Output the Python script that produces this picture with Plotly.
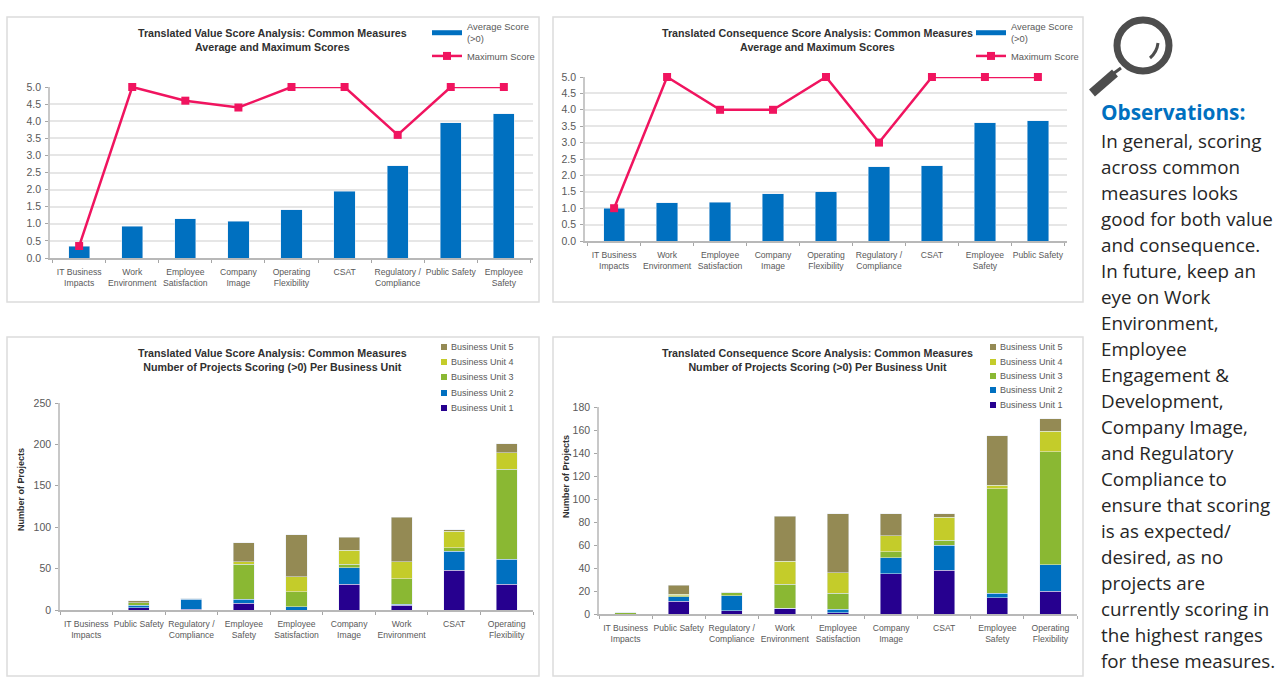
import plotly.graph_objects as go

W = 1281
H = 682

# top left chart
value_cats = ["IT Business<br>Impacts", "Work<br>Environment", "Employee<br>Satisfaction", "Company<br>Image",
              "Operating<br>Flexibility", "CSAT", "Regulatory /<br>Compliance", "Public Safety", "Employee<br>Safety"]
value_avg = [0.35, 0.93, 1.15, 1.07, 1.41, 1.95, 2.7, 3.95, 4.22]
value_max = [0.35, 5, 4.6, 4.4, 5, 5, 3.6, 5, 5]

# top right chart
cons_cats = ["IT Business<br>Impacts", "Work<br>Environment", "Employee<br>Satisfaction", "Company<br>Image",
             "Operating<br>Flexibility", "Regulatory /<br>Compliance", "CSAT", "Employee<br>Safety", "Public Safety"]
cons_avg = [1.0, 1.16, 1.18, 1.44, 1.5, 2.26, 2.29, 3.6, 3.67]
cons_max = [1, 5, 4, 4, 5, 3, 5, 5, 5]

# bottom left chart
value_unit_cats = ["IT Business<br>Impacts", "Public Safety", "Regulatory /<br>Compliance", "Employee<br>Safety",
                   "Employee<br>Satisfaction", "Company<br>Image", "Work<br>Environment", "CSAT", "Operating<br>Flexibility"]
value_bu1 = [0, 3, 1, 8, 0, 31, 6, 48, 31]
value_bu2 = [0, 3, 12, 5, 4, 20, 1, 23, 30]
value_bu3 = [0, 3, 1, 42, 18, 4, 31, 4, 109]
value_bu4 = [0, 0, 0, 3, 18, 17, 20, 20, 20]
value_bu5 = [0, 2, 0, 23, 51, 16, 54, 2, 11]

# bottom right chart
cons_unit_cats = ["IT Business<br>Impacts", "Public Safety", "Regulatory /<br>Compliance", "Work<br>Environment",
                  "Employee<br>Satisfaction", "Company<br>Image", "CSAT", "Employee<br>Safety", "Operating<br>Flexibility"]
cons_bu1 = [0, 11, 3, 5, 1, 35, 38, 14, 20]
cons_bu2 = [0, 4, 13, 0, 3, 14, 22, 4, 23]
cons_bu3 = [1, 1, 3, 21, 14, 5, 4, 91, 98]
cons_bu4 = [0, 1, 0, 20, 18, 14, 20, 3, 18]
cons_bu5 = [0, 8, 0, 39, 51, 19, 3, 43, 11]

unit_names = ["Business Unit 1", "Business Unit 2", "Business Unit 3", "Business Unit 4", "Business Unit 5"]
unit_colors = ["#26008f", "#0070c0", "#8ab833", "#c4cc2a", "#948a54"]

observations = ["In general, scoring", "across common", "measures looks", "good for both value", "and consequence.",
                "In future, keep an", "eye on Work", "Environment,", "Employee", "Engagement &", "Development,",
                "Company Image,", "and Regulatory", "Compliance to", "ensure that scoring", "is as expected/",
                "desired, as no", "projects are", "currently scoring in", "the highest ranges", "for these measures."]

FONT = "Liberation Sans"
GREY = "#595959"
BLUE = "#0070c0"
PINK = "#f0145f"
BOX = "#dcdcdc"


def px(x):
    return x / W


def py(y):
    return 1 - y / H


fig = go.Figure()
shapes = []
annotations = []


def setup_axes(n, box, plot, yrange, dtick, grid, fmt, title, title_pos):
    # box and plot are x0, x1, y0, y1 in page pixels
    shapes.append(dict(type="rect", xref="paper", yref="paper", x0=px(box[0]), x1=px(box[1]), y0=py(box[2]), y1=py(box[3]),
                       line=dict(color=BOX, width=1.5), layer="below"))
    suffix = "" if n == 1 else str(n)
    fig.layout["xaxis" + suffix] = dict(domain=[px(plot[0]), px(plot[1])], anchor="y" + suffix, type="category",
                                        tickson="boundaries", ticks="outside", ticklen=3, ticklabelstandoff=5,
                                        tickcolor="#a6a6a6", showline=True, linecolor="#b8b8b8", linewidth=1.5,
                                        showgrid=False, tickangle=0, tickfont=dict(family=FONT, size=8.6, color=GREY))
    fig.layout["yaxis" + suffix] = dict(domain=[py(plot[3]), py(plot[2])], anchor="x" + suffix, range=yrange, dtick=dtick,
                                        ticks="outside", ticklen=3, ticklabelstandoff=2, tickcolor="#a6a6a6", tickformat=fmt,
                                        showline=True, linecolor="#c8c8c8", linewidth=1.5, showgrid=grid,
                                        gridcolor="#e6e6e6", gridwidth=1.5, zeroline=False,
                                        tickfont=dict(family=FONT, size=10.5, color=GREY))
    annotations.append(dict(xref="paper", yref="paper", x=px(title_pos[0]), y=py(title_pos[1]), text="<b>" + title + "</b>",
                            showarrow=False, align="center", xanchor="center", yanchor="middle",
                            font=dict(family=FONT, size=10.7, color="#303030")))


def score_chart(n, cats, avg, mx, leg):
    suffix = "" if n == 1 else str(n)
    fig.add_trace(go.Bar(x=cats, y=avg, name="Average Score (>0)", marker_color=BLUE, xaxis="x" + suffix,
                         yaxis="y" + suffix, showlegend=False))
    # thin wide key like the original legend
    fig.add_trace(go.Scatter(x=[None], y=[None], name="Average Score<br>(>0)", mode="lines", line=dict(color=BLUE, width=5),
                             xaxis="x" + suffix, yaxis="y" + suffix, legend="legend" + suffix))
    fig.add_trace(go.Scatter(x=cats, y=mx, name="Maximum Score", mode="lines+markers", cliponaxis=False,
                             line=dict(color=PINK, width=2.5), marker=dict(symbol="square", size=8, color=PINK),
                             xaxis="x" + suffix, yaxis="y" + suffix, legend="legend" + suffix))
    fig.layout["legend" + suffix] = dict(x=px(leg[0]), y=py(leg[1]), xanchor="left", yanchor="top", bgcolor="rgba(0,0,0,0)",
                                         font=dict(family=FONT, size=9.4, color=GREY), tracegroupgap=0, traceorder="normal")


def unit_chart(n, cats, series, key_x, key_y):
    suffix = str(n)
    for name, color, vals in zip(unit_names, unit_colors, series):
        fig.add_trace(go.Bar(x=cats, y=vals, name=name, marker_color=color, xaxis="x" + suffix, yaxis="y" + suffix,
                             showlegend=False))
    # plotly legend rows can't go under 19px, the original has them about 15px apart
    for name, color, y in zip(unit_names, unit_colors, key_y):
        shapes.append(dict(type="rect", xref="paper", yref="paper", x0=px(key_x - 3), x1=px(key_x + 3), y0=py(y - 3), y1=py(y + 3),
                           fillcolor=color, line_width=0))
        annotations.append(dict(xref="paper", yref="paper", x=px(key_x + 5), y=py(y), text=name, showarrow=False,
                                xanchor="left", yanchor="middle", font=dict(family=FONT, size=9, color=GREY)))


setup_axes(1, (7, 539, 17, 302), (50, 533, 87, 258), [0, 5], 0.5, True, ".1f",
           "Translated Value Score Analysis: Common Measures<br>Average and Maximum Scores", (272, 40))
setup_axes(2, (553, 1083, 17, 302), (585, 1067, 77, 241), [0, 5], 0.5, True, ".1f",
           "Translated Consequence Score Analysis: Common Measures<br>Average and Maximum Scores", (817, 40))
setup_axes(3, (7, 539, 337, 676), (60, 533, 403, 610), [0, 250], 50, False, "d",
           "Translated Value Score Analysis: Common Measures<br>Number of Projects Scoring (>0) Per Business Unit", (272, 360))
setup_axes(4, (553, 1083, 337, 676), (599, 1077, 407, 614), [0, 180], 20, False, "d",
           "Translated Consequence Score Analysis: Common Measures<br>Number of Projects Scoring (>0) Per Business Unit", (817, 360))

score_chart(1, value_cats, value_avg, value_max, (427, 14))
score_chart(2, cons_cats, cons_avg, cons_max, (971, 14))
unit_chart(3, value_unit_cats, [value_bu1, value_bu2, value_bu3, value_bu4, value_bu5], 444, [408, 393, 377, 362, 347])
unit_chart(4, cons_unit_cats, [cons_bu1, cons_bu2, cons_bu3, cons_bu4, cons_bu5], 993, [405, 390, 376, 362, 347])

for x, y in [(21, 490), (566, 477)]:
    annotations.append(dict(xref="paper", yref="paper", x=px(x), y=py(y), text="<b>Number of Projects</b>", textangle=-90,
                            showarrow=False, xanchor="center", yanchor="middle",
                            font=dict(family=FONT, size=9, color="#303030")))

# magnifying glass icon
ICON = "#4d4d4d"
shapes.append(dict(type="circle", xref="paper", yref="paper", x0=px(1117), x1=px(1169), y0=py(20), y1=py(71),
                   line=dict(color=ICON, width=7)))
shapes.append(dict(type="line", xref="paper", yref="paper", x0=px(1121), y0=py(68), x1=px(1110), y1=py(76),
                   line=dict(color=ICON, width=3)))
shapes.append(dict(type="line", xref="paper", yref="paper", x0=px(1115), y0=py(73), x1=px(1092), y1=py(93),
                   line=dict(color=ICON, width=9)))
shapes.append(dict(type="path", xref="paper", yref="paper", line=dict(color=ICON, width=3),
                   path="M %f,%f Q %f,%f %f,%f" % (px(1158), py(43), px(1157), py(52), px(1150), py(58))))

annotations.append(dict(xref="paper", yref="paper", x=px(1099), y=py(112), text="<b>Observations:</b>", showarrow=False,
                        xanchor="left", yanchor="middle", font=dict(family="Open Sans", size=20.8, color=BLUE)))
for i, line in enumerate(observations):
    annotations.append(dict(xref="paper", yref="paper", x=px(1099), y=py(141 + 26 * i), text=line, showarrow=False,
                            xanchor="left", yanchor="middle", font=dict(family="Open Sans", size=18.8, color="#262626")))

fig.update_layout(width=W, height=H, margin=dict(l=0, r=0, t=0, b=0, autoexpand=False), barmode="stack", bargap=0.6,
                  paper_bgcolor="white", plot_bgcolor="white", shapes=shapes, annotations=annotations)

fig.write_html("out.html", config={"displayModeBar": False},
               post_script="document.body.style.margin='0';document.body.style.overflow='hidden';")
